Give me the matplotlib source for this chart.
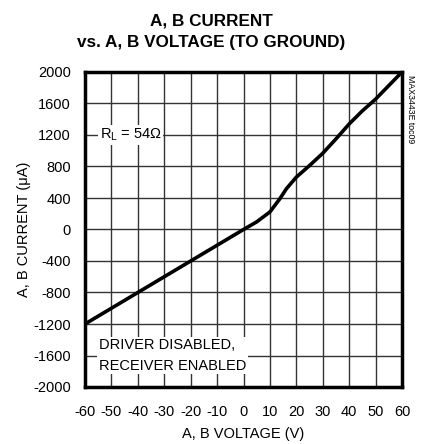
import numpy as np
import matplotlib
matplotlib.use("Agg")
import matplotlib.pyplot as plt
from matplotlib import font_manager

# ---- data ----
voltage_v = [-60, -40, -20, 0, 5, 10, 13.75, 16.25, 20, 25, 30, 35, 40, 45, 50, 60]
current_ua = [-1200, -800, -400, 0, 97, 223, 390, 518, 665, 812, 968, 1150, 1340, 1507, 1655, 2000]

x_ticks = list(range(-60, 61, 10))
y_ticks = list(range(-2000, 2001, 400))

# narrow Arial-ish look if available
names = {f.name for f in font_manager.fontManager.ttflist}
fam = ["Liberation Sans Narrow"] if "Liberation Sans Narrow" in names else []
plt.rcParams["font.family"] = fam + ["Liberation Sans", "DejaVu Sans"]
plt.rcParams["axes.unicode_minus"] = False

fig = plt.figure(figsize=(4.22, 4.44), dpi=100)
ax = fig.add_axes([85 / 422, 1 - 387 / 444, 317 / 422, 315 / 444])

ax.plot(voltage_v, current_ua, color="black", lw=2.6, solid_capstyle="round", zorder=3)

ax.set_xlim(-60, 60)
ax.set_ylim(-2000, 2000)
ax.set_xticks(x_ticks)
ax.set_yticks(y_ticks)
ax.tick_params(length=0, labelsize=10.5, pad=10)
ax.tick_params(axis="x", pad=13)
ax.grid(True, color="#333333", lw=1.0)
ax.set_axisbelow(True)
for sp in ax.spines.values():
    sp.set_linewidth(2.5)

ax.set_xlabel("A, B VOLTAGE (V)", fontsize=10.5, labelpad=6)
ax.set_ylabel("A, B CURRENT (\u03bcA)", fontsize=10.5, labelpad=2)

fig.text(0.5, 1 - 21 / 444, "A, B CURRENT", ha="center", va="center",
         fontsize=12.3, fontweight="bold")
fig.text(0.5, 1 - 43 / 444, "vs. A, B VOLTAGE (TO GROUND)", ha="center", va="center",
         fontsize=12.3, fontweight="bold")

ax.text(-54.5, 1200, "R$_\\mathregular{L}$ = 54\u03a9", ha="left", va="center", fontsize=10.5,
        bbox=dict(facecolor="white", edgecolor="none", pad=1.0), zorder=4)
ax.text(-54.8, -1600, "DRIVER DISABLED,\nRECEIVER ENABLED", ha="left", va="center",
        fontsize=10.5, linespacing=1.55,
        bbox=dict(facecolor="white", edgecolor="none", pad=1.0), zorder=4)

fig.text(410 / 422, 1 - 75 / 444, "MAX3443E toc09", rotation=270, ha="center", va="top",
         fontsize=6.3)

fig.savefig("out.png", dpi=100)
